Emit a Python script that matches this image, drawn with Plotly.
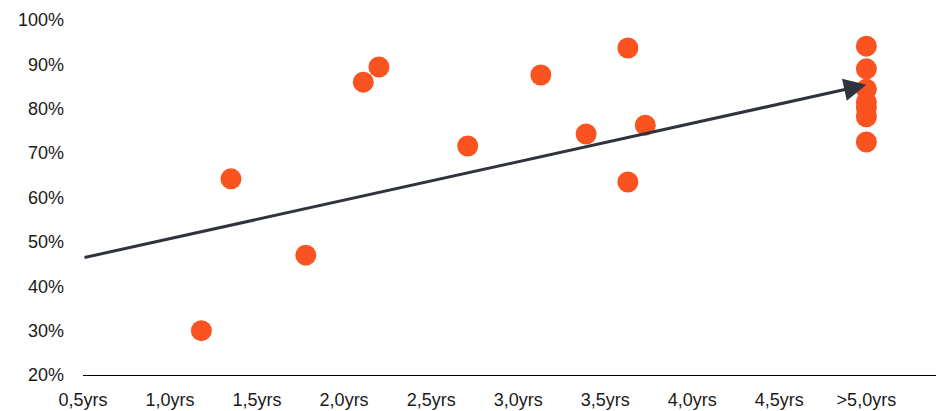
import plotly.graph_objects as go

# Tenure (years) vs. share, one marker per observation
tenure_years = [1.18, 1.35, 1.78, 2.11, 2.20, 2.71, 3.13, 3.39, 3.63, 3.63, 3.73,
                5.0, 5.0, 5.0, 5.0, 5.0, 5.0, 5.0]
share_pct = [30.0, 64.2, 47.0, 86.0, 89.4, 71.6, 87.6, 74.3, 93.7, 63.5, 76.3,
             94.1, 89.0, 84.4, 81.5, 80.2, 78.2, 72.5]

# Trend arrow end points
trend_x = [0.5, 5.0]
trend_y = [46.4, 85.4]

# Axis ticks
x_tick_vals = [0.5, 1.0, 1.5, 2.0, 2.5, 3.0, 3.5, 4.0, 4.5, 5.0]
x_tick_text = ["0,5yrs", "1,0yrs", "1,5yrs", "2,0yrs", "2,5yrs", "3,0yrs",
               "3,5yrs", "4,0yrs", "4,5yrs", ">5,0yrs"]
y_tick_vals = [20, 30, 40, 50, 60, 70, 80, 90, 100]
y_tick_text = ["20%", "30%", "40%", "50%", "60%", "70%", "80%", "90%", "100%"]

MARKER = "#FA5320"
ARROW = "#2F333D"
TEXT = "#1A1A1A"

fig = go.Figure()
fig.add_trace(go.Scatter(
    x=tenure_years, y=share_pct, mode="markers",
    marker=dict(color=MARKER, size=21, line=dict(width=0)),
    hoverinfo="skip", showlegend=False,
))

fig.add_annotation(
    x=trend_x[1], y=trend_y[1], ax=trend_x[0], ay=trend_y[0],
    xref="x", yref="y", axref="x", ayref="y",
    text="", showarrow=True, arrowhead=2, arrowsize=1.5,
    arrowwidth=3, arrowcolor=ARROW, standoff=0, startstandoff=0,
)

fig.update_layout(
    width=936, height=411,
    margin=dict(l=83, r=0, t=20, b=36),
    paper_bgcolor="white", plot_bgcolor="white",
    font=dict(family="Liberation Sans, Arial, sans-serif", size=18, color=TEXT),
    xaxis=dict(
        range=[0.5, 5.4], tickvals=x_tick_vals, ticktext=x_tick_text,
        showgrid=False, zeroline=False, showline=True, linecolor="#000000",
        linewidth=1, ticks="", ticklabelstandoff=8,
    ),
    yaxis=dict(
        range=[20, 100], tickvals=y_tick_vals, ticktext=y_tick_text,
        showgrid=False, zeroline=False, showline=False, ticks="",
        ticklabelstandoff=18,
    ),
)

fig.write_html("out.html")
